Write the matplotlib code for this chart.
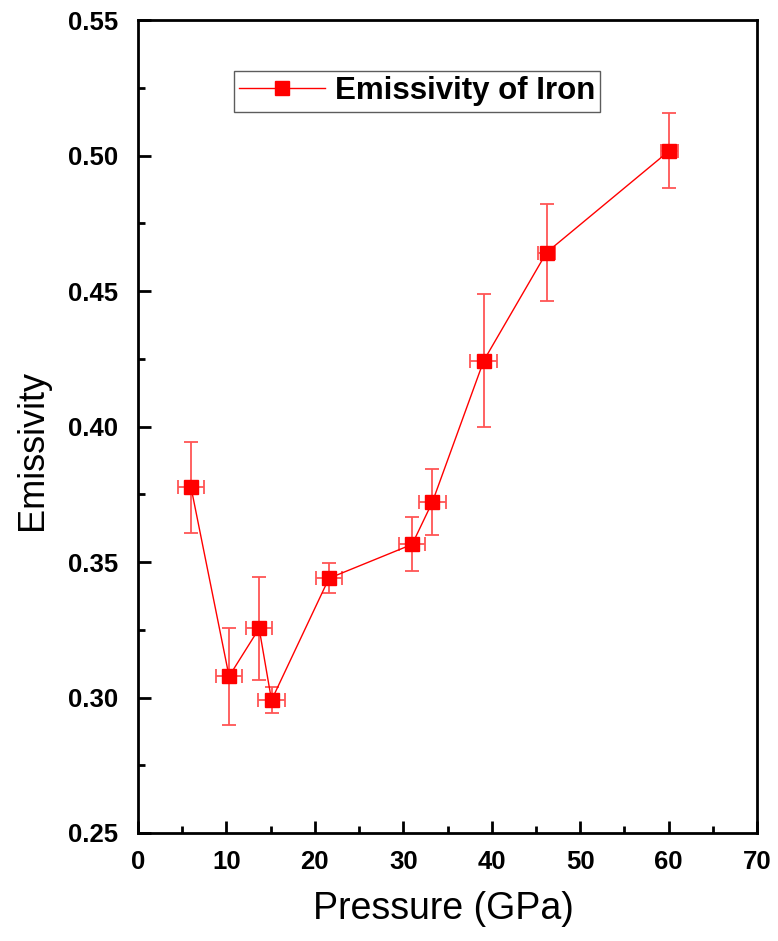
import matplotlib
matplotlib.use("Agg")
import matplotlib.pyplot as plt
from matplotlib.ticker import MultipleLocator

plt.rcParams['font.family'] = ['Liberation Sans', 'DejaVu Sans']

pressure = [6.0, 10.3, 13.7, 15.1, 21.6, 31.0, 33.3, 39.1, 46.2, 60.1]
emissivity = [0.3775, 0.3078, 0.3255, 0.2990, 0.3440, 0.3565, 0.3722, 0.4243, 0.4642, 0.5018]
emis_err = [0.0167, 0.0180, 0.0190, 0.0048, 0.0055, 0.0100, 0.0123, 0.0245, 0.0180, 0.0137]
press_err = [1.5, 1.5, 1.5, 1.5, 1.5, 1.5, 1.5, 1.5, 1.0, 1.0]

fig = plt.figure(figsize=(7.78, 9.41), dpi=100)
ax = fig.add_axes([138/778, 1-833/941, (757-138)/778, (833-20)/941])

ax.errorbar(pressure, emissivity, yerr=emis_err, xerr=press_err, fmt='none',
            ecolor='#ff5555', elinewidth=1.3, capsize=5, capthick=1.3, zorder=2)
ax.plot(pressure, emissivity, color='#ff0000', lw=1.0, marker='s', markersize=9.5,
        markerfacecolor='#ff0000', markeredgecolor='#ff0000', zorder=3,
        label='Emissivity of Iron')

ax.set_xlim(0, 70)
ax.set_ylim(0.25, 0.55)
ax.xaxis.set_major_locator(MultipleLocator(10))
ax.xaxis.set_minor_locator(MultipleLocator(5))
ax.yaxis.set_major_locator(MultipleLocator(0.05))
ax.yaxis.set_minor_locator(MultipleLocator(0.025))
ax.yaxis.set_major_formatter(matplotlib.ticker.FormatStrFormatter('%.2f'))

for s in ax.spines.values():
    s.set_linewidth(2.0)
ax.tick_params(which='major', direction='in', length=9, width=2, labelsize=18.5)
ax.tick_params(axis='y', pad=14.4)
ax.tick_params(axis='x', pad=12)
ax.tick_params(which='minor', direction='in', length=5, width=2)
ax.tick_params(top=False, right=False)
ax.tick_params(which='minor', top=False, right=False)
for lab in ax.get_xticklabels() + ax.get_yticklabels():
    lab.set_fontweight('bold')

ax.set_xlabel('Pressure (GPa)', fontsize=27)
ax.set_ylabel('Emissivity', fontsize=26)
ax.xaxis.set_label_coords((443 - 138) / 619, (833 - 891) / 813)
ax.yaxis.set_label_coords((50 - 138) / 619, (833 - 450) / 813)

leg = ax.legend(loc='upper left', bbox_to_anchor=((234 - 138) / 619, (833 - 71) / 813),
                fancybox=False, edgecolor='#333333',
                prop={'weight': 'bold', 'size': 22.5},
                handlelength=2.75, borderpad=0.17, handletextpad=0.3, borderaxespad=0)
leg.get_frame().set_linewidth(1.0)

fig.savefig('out.png', dpi=100)
